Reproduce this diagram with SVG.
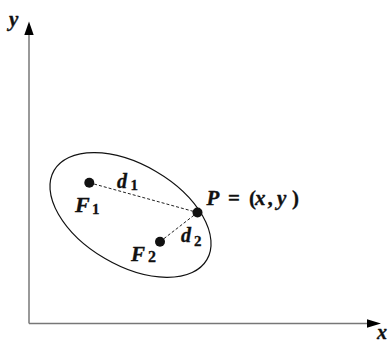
<svg xmlns="http://www.w3.org/2000/svg" width="390" height="343" viewBox="0 0 390 343">
<style>
.v{font-family:"Liberation Serif","Times New Roman",serif;font-weight:bold;font-style:italic;fill:#111;stroke:#111;stroke-width:0.35}
.u{font-family:"Liberation Serif","Times New Roman",serif;font-weight:bold;font-style:normal;fill:#111;stroke:#111;stroke-width:0.3}
.axis{stroke:#777;stroke-width:1.5;fill:none}
.dash{stroke:#222;stroke-width:1;stroke-dasharray:3 2;fill:none}
.dot{fill:#111}
.head{fill:#000}
</style>
<rect width="390" height="343" fill="#fff"/>
<g id="connectors">
<line class="axis" x1="29" y1="323.5" x2="368" y2="323.5"/>
<line class="axis" x1="29" y1="323.5" x2="29" y2="34"/>
<polygon class="head" points="29,21.5 24.3,35 33.7,35"/>
<polygon class="head" points="381,323.5 367,319.2 367,327.8"/>
<line class="dash" x1="89.3" y1="182.7" x2="197.5" y2="212.5"/>
<line class="dash" x1="160" y1="241.7" x2="197.5" y2="212.5"/>
</g>
<g id="ellipse">
<ellipse cx="130.5" cy="215" rx="88.5" ry="50.5" transform="rotate(30.3 130.5 215)" fill="none" stroke="#111" stroke-width="1.2"/>
</g>
<g id="axis-labels">
<text class="v" x="9" y="26" font-size="21">y</text>
<text class="v" x="377" y="339" font-size="20">x</text>
</g>
<g id="F1">
<circle class="dot" cx="89.3" cy="182.7" r="5"/>
<text class="v" x="75" y="212" font-size="22">F</text>
<text class="u" x="92" y="213.5" font-size="15">1</text>
</g>
<g id="F2">
<circle class="dot" cx="160" cy="241.7" r="5"/>
<text class="v" x="131" y="260.5" font-size="21">F</text>
<text class="u" x="148" y="261.5" font-size="16">2</text>
</g>
<g id="P">
<circle class="dot" cx="197.5" cy="212.5" r="5"/>
<text class="v" font-size="21" y="204.5"><tspan x="206.5">P</tspan><tspan class="u" x="228">=</tspan><tspan class="u" x="249">(</tspan><tspan x="255">x</tspan><tspan class="u" x="267.5">,</tspan><tspan x="277">y</tspan><tspan class="u" x="292">)</tspan></text>
</g>
<g id="d1">
<text class="v" x="117" y="188" font-size="20">d</text>
<text class="u" x="130.5" y="189.5" font-size="15">1</text>
</g>
<g id="d2">
<text class="v" x="181" y="242" font-size="20">d</text>
<text class="u" x="194" y="245.5" font-size="15">2</text>
</g>
</svg>
